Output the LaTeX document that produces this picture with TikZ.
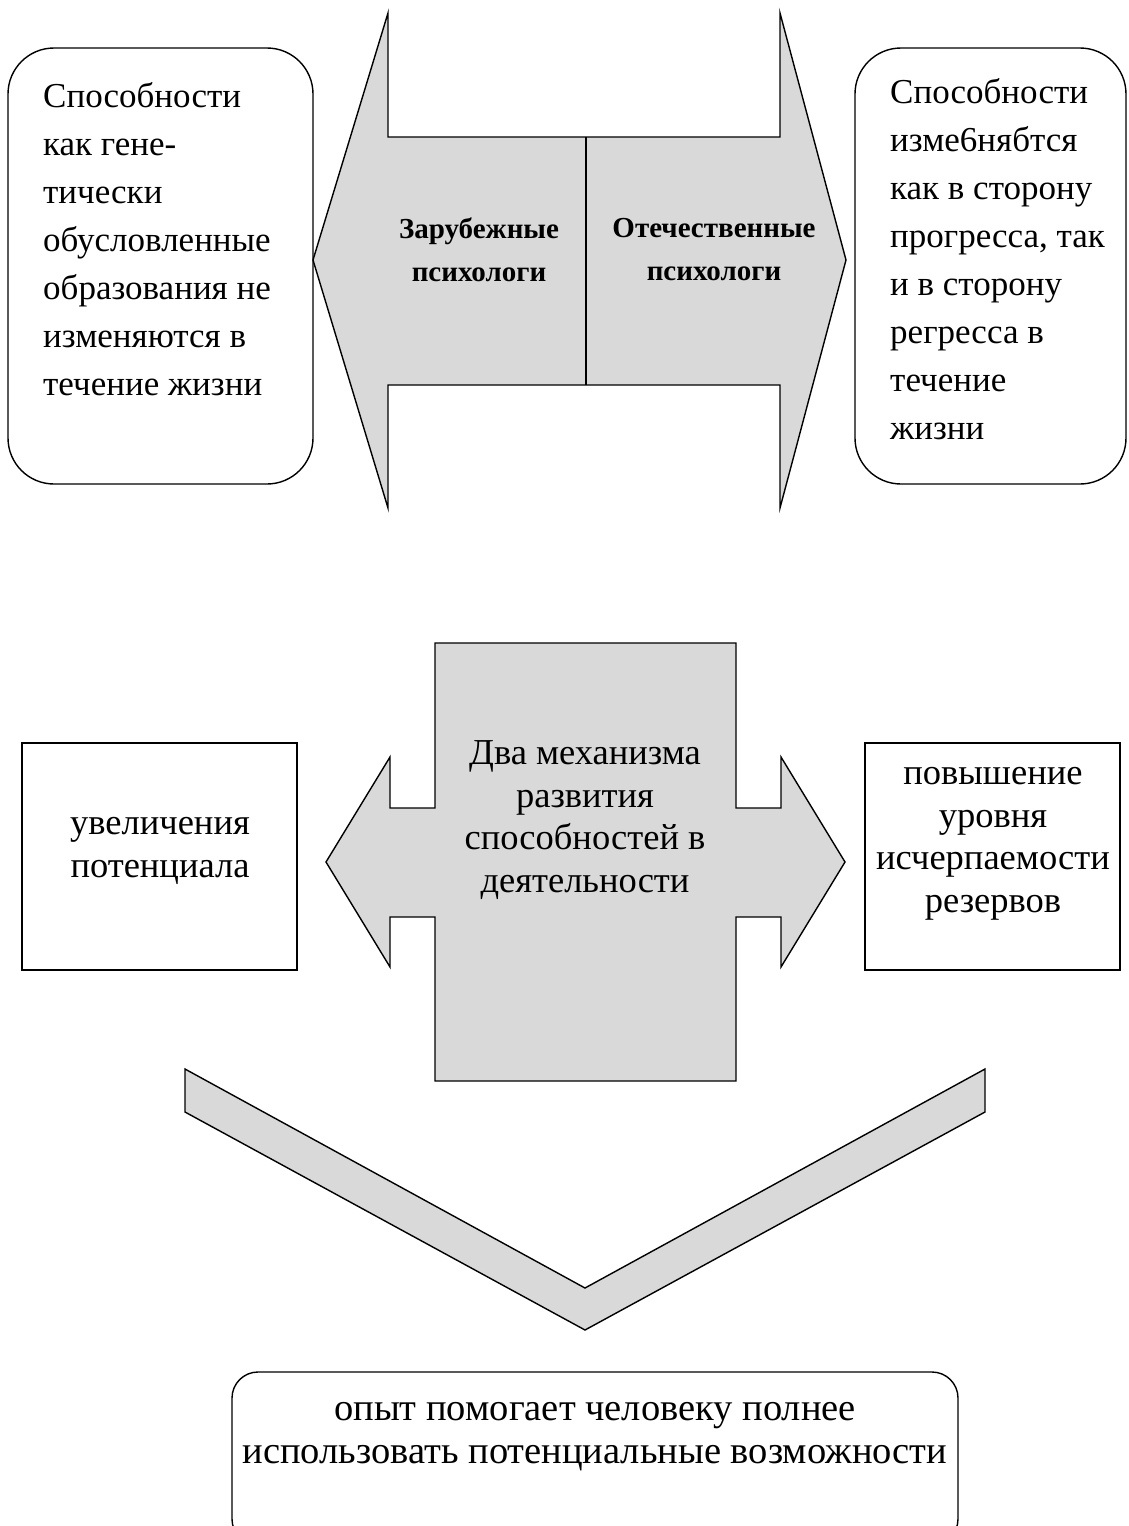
\documentclass[tikz,border=0pt]{standalone}
\usepackage{fontspec}
\setmainfont{Liberation Serif}
\definecolor{grigio}{HTML}{D9D9D9}

\begin{document}
\begin{tikzpicture}[x=1pt,y=-1pt,
  sagoma/.style={draw,fill=grigio,line width=1.4pt},
  riquadro/.style={draw,line width=1.4pt},
  testo/.style={font=\fontsize{35}{48}\selectfont,align=left,anchor=north west,inner sep=0pt},
  centrato/.style={font=\fontsize{36.5}{42.5}\selectfont,align=center,inner sep=0pt},
  grassetto/.style={font=\bfseries\fontsize{29}{43}\selectfont,align=center,inner sep=0pt}]
  \useasboundingbox (0,0) rectangle (1128,1526);

  % freccia doppia in alto
  \draw[sagoma] (313,260) -- (388,13) -- (388,137) -- (780,137) -- (780,13)
    -- (846,260) -- (780,508) -- (780,385) -- (388,385) -- (388,508) -- cycle;
  \draw[line width=1.4pt] (586,137) -- (586,385);
  \node[grassetto] (estero) at (479,250) {Зарубежные\\психологи};
  \node[grassetto] (patria) at (714,250) {Отечественные\\психологи};

  % riquadri laterali in alto
  \draw[riquadro,rounded corners=46pt] (8,48) rectangle (313,484);
  \node[testo] (genetica) at (43,82) {Способности\\как гене-\\тически\\обусловленные\\образования не\\изменяются в\\течение жизни};
  \draw[riquadro,rounded corners=46pt] (855,48) rectangle (1126,484);
  \node[testo] (cambio) at (890,78) {Способности\\изме6нябтся\\как в сторону\\прогресса, так\\и в сторону\\регресса в\\течение\\жизни};

  % croce centrale
  \draw[sagoma] (435,643) -- (736,643) -- (736,808) -- (781,808) -- (781,757)
    -- (845,862) -- (781,967) -- (781,917) -- (736,917) -- (736,1081)
    -- (435,1081) -- (435,917) -- (390,917) -- (390,967) -- (326,862)
    -- (390,757) -- (390,808) -- (435,808) -- cycle;
  \node[centrato] (meccanismi) at (585,820) {Два механизма\\развития\\способностей в\\деятельности};

  % riquadri laterali al centro
  \draw[riquadro] (22,743) rectangle (297,970);
  \node[centrato] (potenziale) at (160,851) {увеличения\\потенциала};
  \draw[riquadro] (865,743) rectangle (1120,970);
  \node[centrato] (riserve) at (993,844) {повышение\\уровня\\исчерпаемости\\резервов};

  % freccia a V
  \draw[sagoma] (185,1069) -- (585,1288) -- (985,1069) -- (985,1112)
    -- (585,1330) -- (185,1112) -- cycle;

  % riquadro in basso
  \draw[riquadro,rounded corners=26pt] (232,1372) rectangle (958,1545);
  \node[centrato,font=\fontsize{38.5}{43}\selectfont] (esperienza) at (595,1437) {опыт помогает человеку полнее\\использовать потенциальные возможности};
\end{tikzpicture}
\end{document}
